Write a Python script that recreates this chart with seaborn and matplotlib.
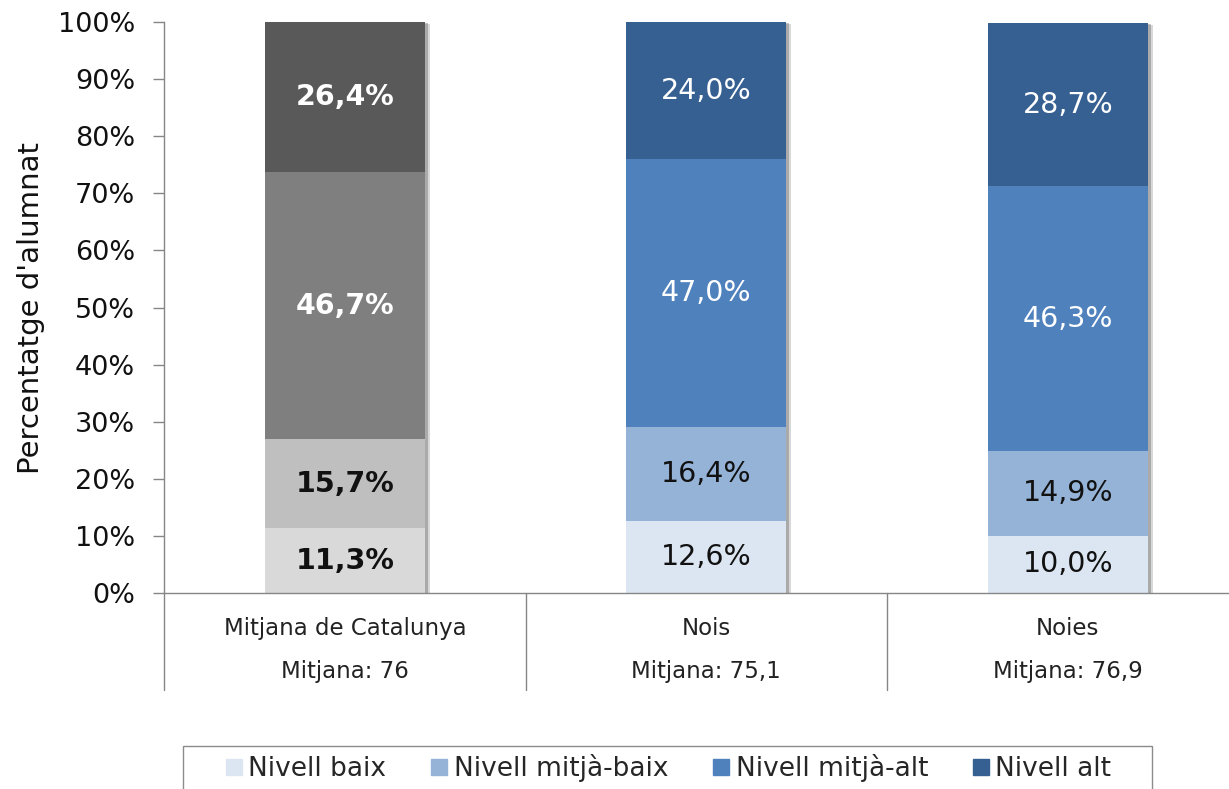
import numpy as np
import pandas as pd
import matplotlib
matplotlib.use("Agg")
import matplotlib.pyplot as plt
import matplotlib.transforms as mtransforms
import matplotlib.patheffects as pe
from matplotlib.lines import Line2D
from matplotlib.patches import Rectangle
import seaborn as sns

# Dades del gràfic
categories = ["Mitjana de Catalunya", "Nois", "Noies"]
mitjanes = ["Mitjana: 76", "Mitjana: 75,1", "Mitjana: 76,9"]
levels = ["Nivell baix", "Nivell mitjà-baix", "Nivell mitjà-alt", "Nivell alt"]
nivell_baix = [11.3, 12.6, 10.0]
nivell_mitja_baix = [15.7, 16.4, 14.9]
nivell_mitja_alt = [46.7, 47.0, 46.3]
nivell_alt = [26.4, 24.0, 28.7]
yticks = [0, 10, 20, 30, 40, 50, 60, 70, 80, 90, 100]

# Colors (gris per la mitjana, blau per nois/noies)
grey = ["#d9d9d9", "#bfbfbf", "#7f7f7f", "#595959"]
blue = ["#dce6f2", "#95b3d7", "#4f81bd", "#376092"]
label_col = ["#111111", "#111111", "white", "white"]

sns.set_style("white")
plt.rcParams["font.family"] = ["DejaVu Sans"]

series = [nivell_baix, nivell_mitja_baix, nivell_mitja_alt, nivell_alt]
values = np.array(series)            # (nivell, categoria)
cum = np.cumsum(values, axis=0)

fig = plt.figure(figsize=(12.29, 7.89), dpi=100)
ax = fig.add_axes([0.1335, 0.2484, 0.8824, 0.7237])

bar_w = 0.443
# barres acumulades, de dalt a baix (la més alta primer)
for lvl in range(3, -1, -1):
    df = pd.DataFrame({"cat": categories, "val": cum[lvl]})
    pal = {categories[0]: grey[lvl], categories[1]: blue[lvl], categories[2]: blue[lvl]}
    sns.barplot(data=df, x="cat", y="val", hue="cat", palette=pal, legend=False,
                width=bar_w, saturation=1, linewidth=0, ax=ax)
    if lvl == 3:
        for p in ax.patches:
            p.set_path_effects([
                pe.SimplePatchShadow(offset=(3.5, -1.5), shadow_rgbFace="#666666", alpha=0.25),
                pe.SimplePatchShadow(offset=(2, -1), shadow_rgbFace="#555555", alpha=0.35),
                pe.Normal()])

# etiquetes dins de les barres
for ci in range(len(categories)):
    for lvl in range(4):
        v = values[lvl, ci]
        y = cum[lvl, ci] - v / 2
        ax.text(ci, y, f"{v:.1f}%".replace(".", ","), ha="center", va="center",
                fontsize=20.5, color=label_col[lvl],
                fontweight="bold" if ci == 0 else "normal")

ax.set_xlim(-0.5, 2.5)
ax.set_ylim(0, 100)
ax.set_yticks(yticks)
ax.set_yticklabels([f"{t}%" for t in yticks])
ax.tick_params(axis="y", left=True, length=8, width=1, color="#868686",
               pad=13, labelsize=19.5, labelcolor="#111111")
ax.set_xticks(range(len(categories)))
ax.set_xticklabels([f"{c}\n{m}" for c, m in zip(categories, mitjanes)],
                   linespacing=2.15)
ax.tick_params(axis="x", bottom=False, length=0, pad=17, labelsize=16.5,
               labelcolor="#222222")
ax.set_xlabel("")
ax.set_ylabel("Percentatge d'alumnat", fontsize=21, color="#111111", labelpad=9)

for s in ["top", "right"]:
    ax.spines[s].set_visible(False)
for s in ["left", "bottom"]:
    ax.spines[s].set_color("#868686")
    ax.spines[s].set_linewidth(1)

# separadors de categories sota l'eix
trans = mtransforms.blended_transform_factory(ax.transData, ax.transAxes)
for b in np.arange(-0.5, len(categories), 1.0):
    ax.add_line(Line2D([b, b], [0, -0.17], transform=trans, clip_on=False,
                       color="#868686", lw=1))

# llegenda (marc dibuixat a part, més ample que el contingut)
fig.patches.append(Rectangle((183 / 1229, -0.02), (1152 - 183) / 1229, 0.0545 + 0.02,
                             transform=fig.transFigure, facecolor="white",
                             edgecolor="#8c8c8c", linewidth=1, zorder=0))
handles = [Line2D([], [], marker="s", linestyle="none", markersize=11,
                  markerfacecolor=c, markeredgecolor=c) for c in blue]
leg = fig.legend(handles, levels, loc="upper center", bbox_to_anchor=(0.543, 0.0545),
                 ncol=4, fontsize=19, frameon=False,
                 handletextpad=0.15, columnspacing=1.6, handlelength=0.8,
                 borderpad=0.3, borderaxespad=0)

fig.savefig("out.png", dpi=100)
